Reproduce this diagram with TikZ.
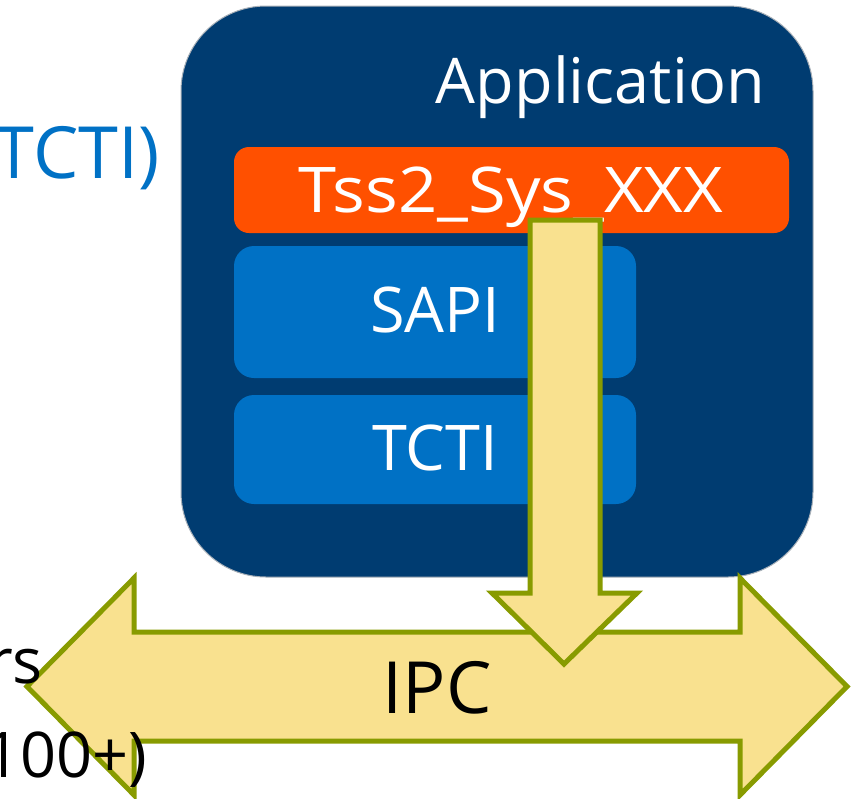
\documentclass[tikz,border=0pt]{standalone}
\usepackage{fontspec}
\setmainfont{Open Sans}
\definecolor{navy}{HTML}{003C71}
\definecolor{midblue}{HTML}{0071C5}
\definecolor{callorange}{HTML}{FF5000}
\definecolor{arrowfill}{HTML}{F9E18F}
\definecolor{arrowline}{HTML}{889B00}
\definecolor{panelrim}{HTML}{A8B0B8}
\tikzset{
  panel/.style={draw=panelrim, line width=1pt, fill=navy, rounded corners=85pt,
    minimum width=632pt, minimum height=571pt, inner sep=0pt},
  layer/.style={fill=midblue, rounded corners=20pt, inner sep=0pt,
    minimum width=402pt},
  callbar/.style={fill=callorange, rounded corners=15pt, inner sep=0pt,
    minimum width=555pt, minimum height=86pt},
  boxtext/.style={text=white, inner sep=0pt, font=\fontsize{63}{70}\selectfont},
  sidetext/.style={inner sep=0pt, anchor=base east},
  blockarrow/.style={fill=arrowfill, draw=arrowline, line width=5pt,
    line join=miter, miter limit=10}
}
\begin{document}
\begin{tikzpicture}[x=1pt, y=-1pt]
  \useasboundingbox (0,0) rectangle (856,798);
  \clip (0,0) rectangle (856,798);

  % text continuing from the left of the frame
  \node[sidetext, text=midblue, font=\fontsize{72}{80}\selectfont]
    (lefttop) at (160,178) {(TCTI)};

  % application panel and its layers
  \node[panel] (app) at (497,291.5) {};
  \node[boxtext, anchor=base east] (apptitle) at (765,103) {Application};

  \node[callbar] (tss) at (511.5,190) {};
  \node[boxtext, anchor=base, font=\fontsize{63}{70}\selectfont\addfontfeature{FakeStretch=1.09}]
    (tsstext) at (511,212) {Tss2\_Sys\_XXX};

  \node[layer, minimum height=132pt] (sapi) at (435,312) {};
  \node[boxtext, anchor=base] (sapitext) at (435,332) {SAPI};

  \node[layer, minimum height=109pt] (tcti) at (435,449.5) {};
  \node[boxtext, anchor=base] (tctitext) at (435,470) {TCTI};

  % IPC double-headed block arrow
  \draw[blockarrow]
    (27,686.5) -- (134,578) -- (134,632) -- (740,632) -- (740,578)
    -- (847,686.5) -- (740,795) -- (740,741) -- (134,741) -- (134,795) -- cycle;
  \node[inner sep=0pt, anchor=base, font=\fontsize{72}{80}\selectfont]
    (ipc) at (437,713) {IPC};

  % lower left text lies over the IPC arrow
  \node[sidetext, font=\fontsize{63}{70}\selectfont] (leftmid) at (43,683) {rs};
  \node[sidetext, font=\fontsize{63}{70}\selectfont] (leftlow) at (147,777) {(100+)};

  % call path from the application down to IPC
  \draw[blockarrow]
    (530,220) -- (600,220) -- (600,593) -- (637,593) -- (564,664)
    -- (492,593) -- (530,593) -- cycle;
\end{tikzpicture}
\end{document}
